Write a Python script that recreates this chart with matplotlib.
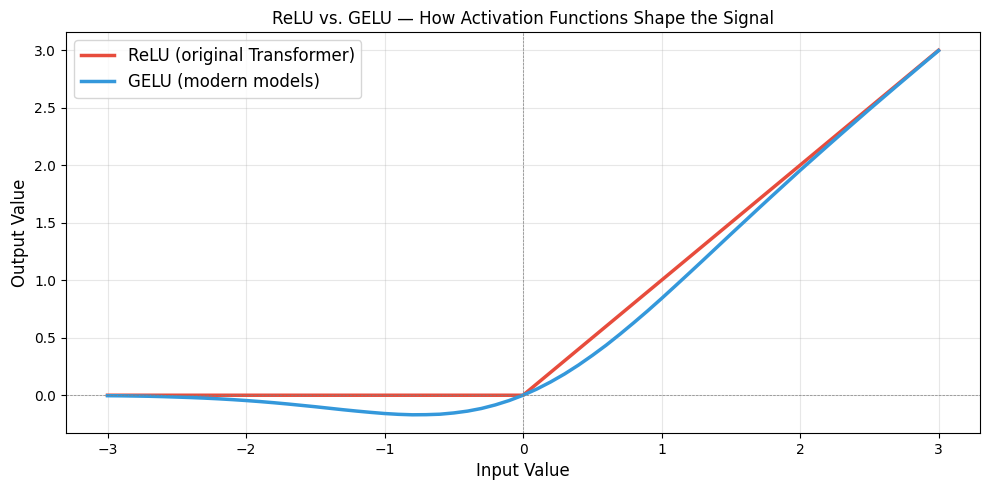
import matplotlib.pyplot as plt
import numpy as np

# values
relu_x = [-3.0, 0.0, 3.0]
relu_y = [0.0, 0.0, 3.0]

gelu_x = [round(-3.0 + 0.1 * i, 1) for i in range(61)]
gelu_y = [-0.004, -0.005, -0.007, -0.009, -0.012, -0.016, -0.020, -0.025, -0.031, -0.038,
          -0.046, -0.055, -0.065, -0.076, -0.088, -0.100, -0.113, -0.126, -0.138, -0.149,
          -0.159, -0.166, -0.170, -0.169, -0.165, -0.154, -0.138, -0.115, -0.084, -0.046,
          0.0, 0.054, 0.116, 0.185, 0.262, 0.346, 0.435, 0.531, 0.631, 0.734,
          0.841, 0.951, 1.062, 1.174, 1.287, 1.400, 1.512, 1.624, 1.735, 1.845,
          1.955, 2.062, 2.169, 2.275, 2.380, 2.485, 2.588, 2.691, 2.793, 2.895, 2.996]

fig, ax = plt.subplots(figsize=(9.89, 4.90), dpi=100)
fig.subplots_adjust(left=0.0667, right=0.991, top=0.9347, bottom=0.1163)
ax.plot(relu_x, relu_y, color='#e74c3c', linewidth=2.5, label='ReLU (original Transformer)')
ax.plot(gelu_x, gelu_y, color='#3498db', linewidth=2.5, label='GELU (modern models)')
ax.axhline(0, color='gray', linestyle='--', linewidth=0.5)
ax.axvline(0, color='gray', linestyle='--', linewidth=0.5)
ax.set_xlabel('Input Value', fontsize=12)
ax.set_ylabel('Output Value', fontsize=12)
ax.set_title('ReLU vs. GELU \u2014 How Activation Functions Shape the Signal')
ax.legend(fontsize=12, loc='upper left')
ax.grid(True, alpha=0.3)
plt.savefig('out.png')
